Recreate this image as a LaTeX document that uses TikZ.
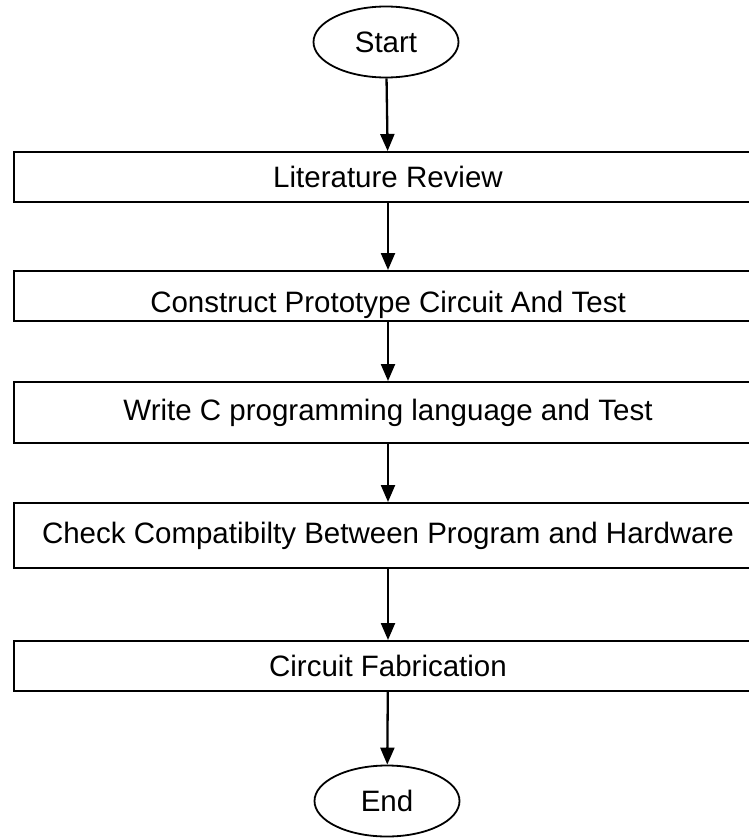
\documentclass[tikz,border=0pt]{standalone}
\usepackage{fontspec}
\setmainfont{Liberation Sans}
\usetikzlibrary{shapes.geometric,arrows.meta}

\begin{document}
\begin{tikzpicture}[x=1pt,y=-1pt,
	stepbox/.style={draw, line width=2pt, minimum width=748pt, inner sep=0pt, font=\fontsize{29.5}{33}\selectfont},
	terminal/.style={draw, ellipse, line width=1.8pt, minimum width=145pt, minimum height=71pt, inner sep=0pt, font=\fontsize{29.5}{33}\selectfont},
	flow/.style={line width=2.3pt, -{Triangle[length=17pt,width=14pt]}}]
\useasboundingbox (0,0) rectangle (749,838);
\clip (0,0) rectangle (749,838);

			\node[terminal] (start) at (386,42) {Start};
			\node[stepbox, minimum height=50pt] (review) at (388,177) {Literature Review};
			\node[stepbox, minimum height=50pt, text height=40pt] (proto) at (388,296) {Construct Prototype Circuit And Test};
			\node[stepbox, minimum height=61pt] (code) at (388,412.5) {Write C programming language and Test};
			\node[stepbox, minimum height=65pt] (compat) at (388,535.5) {Check Compatibilty Between Program and Hardware};
			\node[stepbox, minimum height=50pt] (fab) at (388,666) {Circuit Fabrication};
			\node[terminal] (end) at (387,801) {End};

			\draw[flow] (start) -- (review);
			\draw[flow] (review) -- (proto);
			\draw[flow] (proto) -- (code);
			\draw[flow] (code) -- (compat);
			\draw[flow] (compat) -- (fab);
			\draw[flow] (fab) -- (end);
		\end{tikzpicture}
\end{document}
